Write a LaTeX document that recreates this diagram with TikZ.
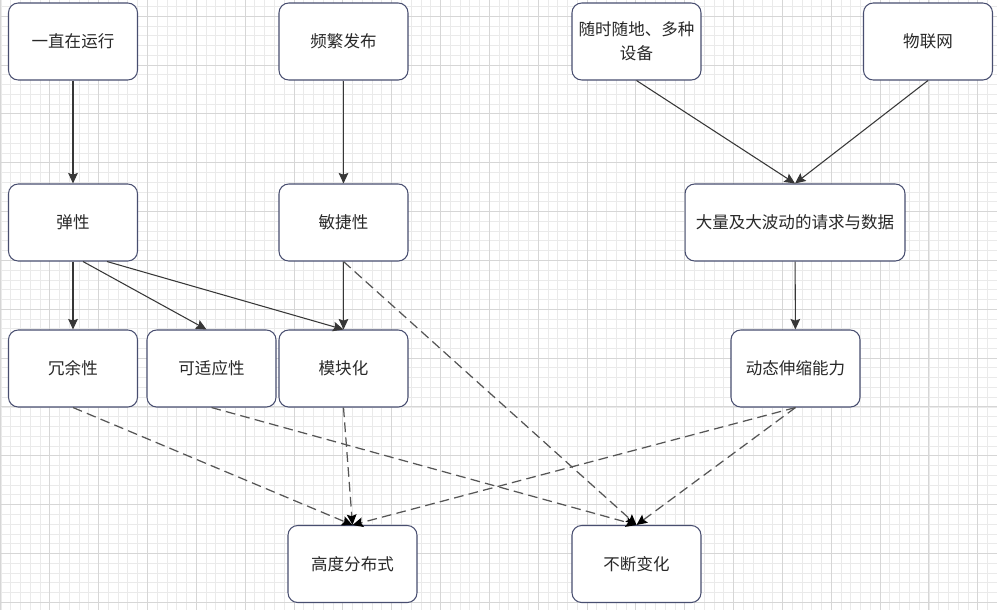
\documentclass[tikz,border=0pt]{standalone}
\usepackage{fontspec}
\setmainfont{Noto Sans CJK SC}
\usetikzlibrary{arrows.meta,positioning}
\definecolor{boxLine}{RGB}{72,78,112}
\definecolor{edgeGray}{RGB}{55,55,55}
\definecolor{dashGray}{RGB}{85,85,85}
\definecolor{gridMinor}{RGB}{234,234,234}
\definecolor{gridMajor}{RGB}{214,214,214}
\definecolor{textGray}{RGB}{40,40,40}

\begin{document}
\begin{tikzpicture}[x=0.02cm,y=-0.02cm,
                box/.style={draw=boxLine,fill=white,rounded corners=5.5pt,line width=0.6pt,
                           minimum width=2.58cm,minimum height=1.54cm,
                           font=\fontsize{9.4}{13.6}\selectfont,align=center,text=textGray},
                link/.style={draw=edgeGray,line width=0.6pt,-{Stealth[length=6pt,width=5.5pt,inset=1pt]}},
                dlink/.style={draw=dashGray,line width=0.7pt,dash pattern=on 5.5pt off 3pt,
                             -{Stealth[length=6pt,width=5.5pt,inset=1pt,color=black]}}
            ]
                \useasboundingbox (0,0) rectangle (997,609);
                \fill[white] (0,0) rectangle (997,609);
                % background grid
                \draw[gridMinor,line width=0.45pt,shift={(0.9,16.2)}] (-20,-30) grid[step=0.1954cm] (1020,620);
                \draw[gridMajor,line width=0.5pt,shift={(0.9,16.2)}] (-60,-60) grid[step=0.977cm] (1020,620);

                % top row
                \node[box] (yunxing) at (73,41.5) {一直在运行};
                \node[box] (fabu) at (343.5,41.5) {频繁发布};
                \node[box] (shebei) at (636.5,41.5) {随时随地、多种\\设备};
                \node[box] (wulian) at (928,41.5) {物联网};

                % second row
                \node[box] (tanxing) at (73,222.5) {弹性};
                \node[box] (minjie) at (343.5,222.5) {敏捷性};
                \node[box,minimum width=4.4cm] (shuju) at (795,222.5) {大量及大波动的请求与数据};

                % third row
                \node[box] (rongyu) at (73,368.5) {冗余性};
                \node[box] (shiying) at (211.5,368.5) {可适应性};
                \node[box] (mokuai) at (343.5,368.5) {模块化};
                \node[box] (dongtai) at (795.5,368.5) {动态伸缩能力};

                % bottom row
                \node[box] (gaodu) at (352.5,564) {高度分布式};
                \node[box] (buduan) at (636.5,564) {不断变化};

                % solid arrows
                \draw[link] (yunxing) -- (tanxing);
                \draw[link] (fabu) -- (minjie);
                \draw[link] (shebei.south) -- (shuju.north);
                \draw[link] (wulian.south) -- (shuju.north);
                \draw[link] (tanxing) -- (rongyu);
                \draw[link] ([xshift=0.2cm]tanxing.south) -- ([xshift=-0.1cm]shiying.north);
                \draw[link] ([xshift=0.68cm]tanxing.south) -- (mokuai.north);
                \draw[link] (minjie) -- (mokuai);
                \draw[link] (shuju) -- (dongtai);

                % dashed arrows
                \draw[dlink] (rongyu.south) -- (gaodu.north);
                \draw[dlink] (mokuai.south) -- (gaodu.north);
                \draw[dlink] (dongtai.south) -- (gaodu.north);
                \draw[dlink] (shiying.south) -- (buduan.north);
                \draw[dlink] (minjie.south) -- (buduan.north);
                \draw[dlink] (dongtai.south) -- (buduan.north);
            \end{tikzpicture}
\end{document}
